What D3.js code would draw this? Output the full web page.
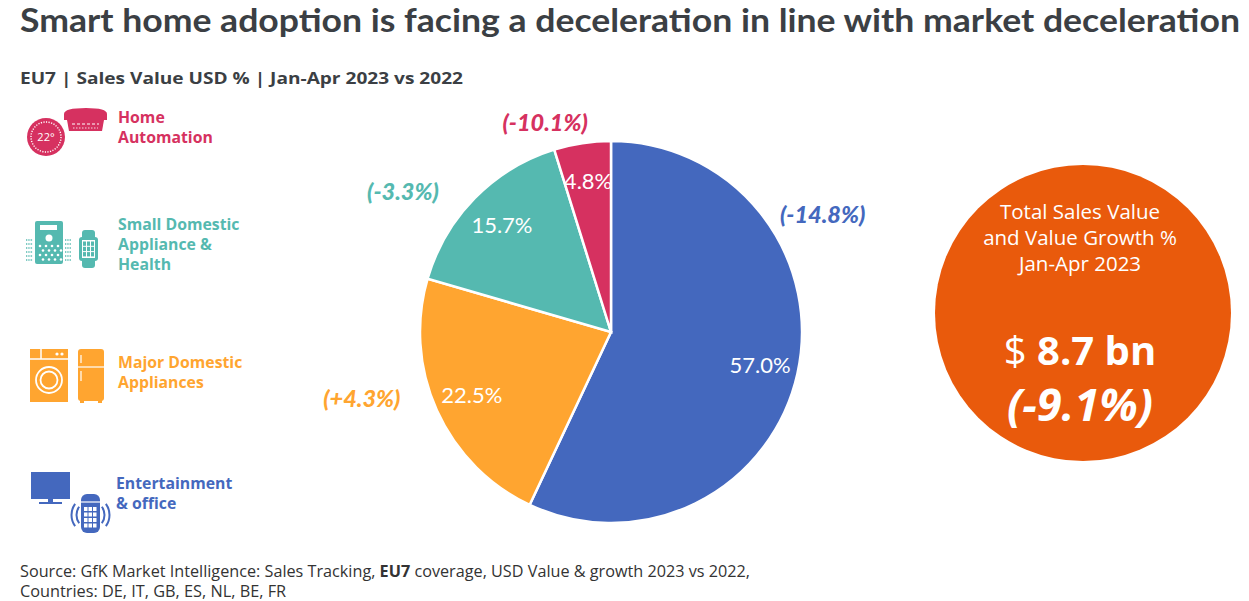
<!DOCTYPE html>
<html>
<head>
<meta charset="utf-8">
<script src="https://cdn.jsdelivr.net/npm/d3@7"></script>
<style>
  body { margin: 0; background: #fff; }
  svg text { font-family: "Open Sans", sans-serif; }
</style>
</head>
<body>
<script>
// chart data
const categories = ['Entertainment & office', 'Major Domestic Appliances', 'Small Domestic Appliance & Health', 'Home Automation'];
const shares = [57.0, 22.5, 15.7, 4.8];
const growth = ['(-14.8%)', '(+4.3%)', '(-3.3%)', '(-10.1%)'];
const legendLines = [['Entertainment', '& office'], ['Major Domestic', 'Appliances'], ['Small Domestic', 'Appliance &', 'Health'], ['Home', 'Automation']];
const palette = ['#4468be', '#ffa530', '#55b9b0', '#d63160'];
const totalValue = '8.7 bn';
const totalGrowth = '(-9.1%)';

const w = 1249, h = 601;
const cx = 611, cy = 332, radius = 191;

const svg = d3.select('body').append('svg')
  .attr('width', w)
  .attr('height', h);

//title and subtitle
svg.append('text')
  .attr('x', 20).attr('y', 32)
  .attr('textLength', 1220).attr('lengthAdjust', 'spacingAndGlyphs')
  .style('font-family', 'Lato, sans-serif')
  .style('font-size', '33px').style('font-weight', 700).style('fill', '#3b3f44')
  .text('Smart home adoption is facing a deceleration in line with market deceleration');

svg.append('text')
  .attr('x', 20).attr('y', 84)
  .attr('textLength', 443).attr('lengthAdjust', 'spacingAndGlyphs')
  .style('font-size', '16px').style('font-weight', 700).style('fill', '#3b3f44')
  .text('EU7 | Sales Value USD % | Jan-Apr 2023 vs 2022');

//pie
const pie = d3.pie().sort(null).value((d) => d);
const arcs = pie(shares);
const arc = d3.arc().innerRadius(0).outerRadius(radius);
const labelArc = d3.arc().innerRadius(radius * 0.8).outerRadius(radius * 0.8);

const g = svg.append('g').attr('transform', `translate(${cx}, ${cy})`);

g.selectAll('path')
  .data(arcs)
  .enter()
  .append('path')
  .attr('d', arc)
  .attr('fill', (d, i) => palette[i])
  .attr('stroke', '#fff')
  .attr('stroke-width', 2.5);

g.selectAll('.share')
  .data(arcs)
  .enter()
  .append('text')
  .attr('class', 'share')
  .attr('transform', (d) => `translate(${labelArc.centroid(d)})`)
  .attr('text-anchor', 'middle')
  .attr('dy', '0.35em')
  .style('font-family', 'Lato, sans-serif')
  .style('font-size', '22px')
  .style('fill', '#fff')
  .text((d) => d3.format('.1f')(d.data) + '%');

//growth labels sit outside the pie, placed by angle (deg from top) and distance
const growthPlace = [[61, 242], [255, 258], [304, 251], [342.5, 219]];
g.selectAll('.growth')
  .data(arcs)
  .enter()
  .append('text')
  .attr('class', 'growth')
  .attr('x', (d, i) => growthPlace[i][1] * Math.sin(growthPlace[i][0] * Math.PI / 180))
  .attr('y', (d, i) => -growthPlace[i][1] * Math.cos(growthPlace[i][0] * Math.PI / 180))
  .attr('text-anchor', 'middle')
  .attr('dy', '0.35em')
  .style('font-family', 'Lato, sans-serif')
  .style('font-size', '23.5px')
  .style('font-weight', 900)
  .style('font-style', 'italic')
  .style('fill', (d, i) => palette[i])
  .text((d, i) => growth[i]);

//legend text
const legendTop = [483, 362, 224, 117];
const legendX = [116, 118, 118, 118];
legendLines.forEach((lines, i) => {
  const t = svg.append('text')
    .attr('x', legendX[i])
    .attr('y', legendTop[i])
    .attr('dy', '0.35em')
    .style('font-size', '15.8px')
    .style('font-weight', 700)
    .style('fill', palette[i]);
  lines.forEach((line, j) => {
    t.append('tspan').attr('x', legendX[i]).attr('dy', j === 0 ? '0.35em' : '20px').text(line);
  });
});

//icons - simple shapes
const icons = svg.append('g');

// home automation: thermostat + smoke detector
const red = palette[3];
icons.append('circle').attr('cx', 46).attr('cy', 137).attr('r', 19).attr('fill', red);
icons.append('circle').attr('cx', 46).attr('cy', 137).attr('r', 15).attr('fill', 'none').attr('stroke', '#fff').attr('stroke-width', 1.4).attr('stroke-dasharray', '1.2 1.4');
icons.append('circle').attr('cx', 46).attr('cy', 137).attr('r', 11.5).attr('fill', red);
icons.append('text').attr('x', 46).attr('y', 141).attr('text-anchor', 'middle')
  .style('font-size', '11px').style('fill', '#fff').text('22°');
icons.append('path').attr('d', 'M64,114 Q64,108 86,108 Q107,108 107,114 L107,120 L64,120 Z').attr('fill', red);
icons.append('path').attr('d', 'M67,120 L104,120 L102,131 L69,131 Z').attr('fill', red);
icons.append('line').attr('x1', 72).attr('x2', 99).attr('y1', 124).attr('y2', 124).attr('stroke', '#fff').attr('stroke-dasharray', '3 2');
icons.append('line').attr('x1', 73).attr('x2', 98).attr('y1', 128).attr('y2', 128).attr('stroke', '#fff').attr('stroke-width', 0.8).attr('stroke-dasharray', '1.5 1.5');

// small domestic: air purifier + watch
const teal = palette[2];
icons.append('rect').attr('x', 35).attr('y', 221).attr('width', 28).attr('height', 43).attr('rx', 2).attr('fill', teal);
icons.append('rect').attr('x', 40).attr('y', 225).attr('width', 17).attr('height', 5).attr('fill', '#fff');
icons.append('circle').attr('cx', 49).attr('cy', 238).attr('r', 3.5).attr('fill', '#fff');
[0, 1, 2, 3].forEach((r) => {
  [0, 1, 2, 3].forEach((c) => {
    icons.append('circle').attr('cx', 40 + c * 6 + (r % 2) * 3).attr('cy', 246 + r * 4.5).attr('r', 1.3).attr('fill', '#fff');
  });
});
[0, 1, 2, 3, 4, 5].forEach((r) => {
  icons.append('line').attr('x1', 26).attr('x2', 33).attr('y1', 240 + r * 4).attr('y2', 240 + r * 4)
    .attr('stroke', teal).attr('stroke-width', 1.3).attr('stroke-dasharray', '1.3 1');
  icons.append('line').attr('x1', 65).attr('x2', 71).attr('y1', 240 + r * 4).attr('y2', 240 + r * 4)
    .attr('stroke', teal).attr('stroke-width', 1.3).attr('stroke-dasharray', '1.3 1');
});
icons.append('rect').attr('x', 82).attr('y', 230).attr('width', 13).attr('height', 38).attr('rx', 3).attr('fill', teal);
icons.append('rect').attr('x', 79).attr('y', 237).attr('width', 19).attr('height', 24).attr('rx', 3).attr('fill', teal);
icons.append('rect').attr('x', 82).attr('y', 240).attr('width', 13).attr('height', 18).attr('fill', '#fff');
[0, 1, 2].forEach((r) => {
  [0, 1, 2].forEach((c) => {
    icons.append('rect').attr('x', 83 + c * 4).attr('y', 241.5 + r * 5.3).attr('width', 3).attr('height', 4.3).attr('fill', teal);
  });
});

// major domestic: washer + fridge
const orange = palette[1];
icons.append('rect').attr('x', 30).attr('y', 349).attr('width', 38).attr('height', 53).attr('fill', orange);
icons.append('line').attr('x1', 30).attr('x2', 68).attr('y1', 359).attr('y2', 359).attr('stroke', '#fff').attr('stroke-width', 1.5);
icons.append('line').attr('x1', 41).attr('x2', 41).attr('y1', 349).attr('y2', 359).attr('stroke', '#fff').attr('stroke-width', 1.5);
icons.append('circle').attr('cx', 57).attr('cy', 354).attr('r', 1.6).attr('fill', '#fff');
icons.append('circle').attr('cx', 62).attr('cy', 354).attr('r', 1.6).attr('fill', '#fff');
icons.append('circle').attr('cx', 49).attr('cy', 380).attr('r', 13).attr('fill', 'none').attr('stroke', '#fff').attr('stroke-width', 1.8);
icons.append('circle').attr('cx', 49).attr('cy', 380).attr('r', 8.5).attr('fill', 'none').attr('stroke', '#fff').attr('stroke-width', 1.8);
icons.append('rect').attr('x', 78).attr('y', 349).attr('width', 26).attr('height', 52).attr('rx', 3).attr('fill', orange);
icons.append('rect').attr('x', 80).attr('y', 400).attr('width', 4).attr('height', 3).attr('fill', orange);
icons.append('rect').attr('x', 98).attr('y', 400).attr('width', 4).attr('height', 3).attr('fill', orange);
icons.append('line').attr('x1', 78).attr('x2', 104).attr('y1', 367).attr('y2', 367).attr('stroke', '#fff').attr('stroke-width', 1.2);
icons.append('line').attr('x1', 81).attr('x2', 81).attr('y1', 355).attr('y2', 363).attr('stroke', '#fff').attr('stroke-width', 1.2);
icons.append('line').attr('x1', 81).attr('x2', 81).attr('y1', 371).attr('y2', 381).attr('stroke', '#fff').attr('stroke-width', 1.2);

// entertainment: monitor + smart speaker
const blue = palette[0];
icons.append('rect').attr('x', 31).attr('y', 472).attr('width', 39).attr('height', 27).attr('fill', blue);
icons.append('rect').attr('x', 48).attr('y', 499).attr('width', 5).attr('height', 3).attr('fill', blue);
icons.append('rect').attr('x', 39).attr('y', 502).attr('width', 23).attr('height', 2).attr('fill', blue);
icons.append('rect').attr('x', 81).attr('y', 494).attr('width', 19).attr('height', 39).attr('rx', 6).attr('fill', blue);
icons.append('line').attr('x1', 81).attr('x2', 100).attr('y1', 502).attr('y2', 502).attr('stroke', '#fff').attr('stroke-width', 1.2);
[0, 1, 2, 3].forEach((r) => {
  [0, 1, 2].forEach((c) => {
    icons.append('rect').attr('x', 84 + c * 4.5).attr('y', 507 + r * 5.5).attr('width', 3.5).attr('height', 4).attr('fill', '#fff');
  });
});
[[-1, 13], [-1, 18], [1, 13], [1, 18]].forEach(([side, rr]) => {
  const a0 = side < 0 ? -Math.PI * 0.7 : Math.PI * 0.3;
  const a1 = side < 0 ? -Math.PI * 0.3 : Math.PI * 0.7;
  icons.append('path')
    .attr('transform', 'translate(90.5, 515)')
    .attr('d', d3.arc().innerRadius(rr).outerRadius(rr + 2).startAngle(a0).endAngle(a1)())
    .attr('fill', blue);
});

//total circle
const bubble = svg.append('g').attr('transform', 'translate(1083, 313)');
bubble.append('circle').attr('r', 148).attr('fill', '#e95a0c');
['Total Sales Value', 'and Value Growth %', 'Jan-Apr 2023'].forEach((line, i) => {
  bubble.append('text')
    .attr('x', -3).attr('y', -94 + i * 26)
    .attr('text-anchor', 'middle')
    .style('font-size', '20.5px')
    .style('fill', '#fff')
    .text(line);
});
const big = bubble.append('text')
  .attr('x', -3).attr('y', 52)
  .attr('text-anchor', 'middle')
  .style('font-size', '40px')
  .style('fill', '#fff');
big.append('tspan').text('$ ');
big.append('tspan').style('font-weight', 700).text(totalValue);
bubble.append('text')
  .attr('x', -3).attr('y', 108)
  .attr('text-anchor', 'middle')
  .style('font-size', '45px')
  .style('font-weight', 700)
  .style('font-style', 'italic')
  .style('fill', '#fff')
  .text(totalGrowth);

//source note
const src = svg.append('text')
  .attr('x', 20).attr('y', 577)
  .attr('textLength', 730).attr('lengthAdjust', 'spacingAndGlyphs')
  .style('font-size', '16.3px')
  .style('fill', '#333');
src.append('tspan').text('Source: GfK Market Intelligence: Sales Tracking, ');
src.append('tspan').style('font-weight', 700).text('EU7');
src.append('tspan').text(' coverage, USD Value & growth 2023 vs 2022,');
svg.append('text')
  .attr('x', 20).attr('y', 597)
  .style('font-size', '16.3px')
  .style('fill', '#333')
  .text('Countries: DE, IT, GB, ES, NL, BE, FR');
</script>
</body>
</html>
